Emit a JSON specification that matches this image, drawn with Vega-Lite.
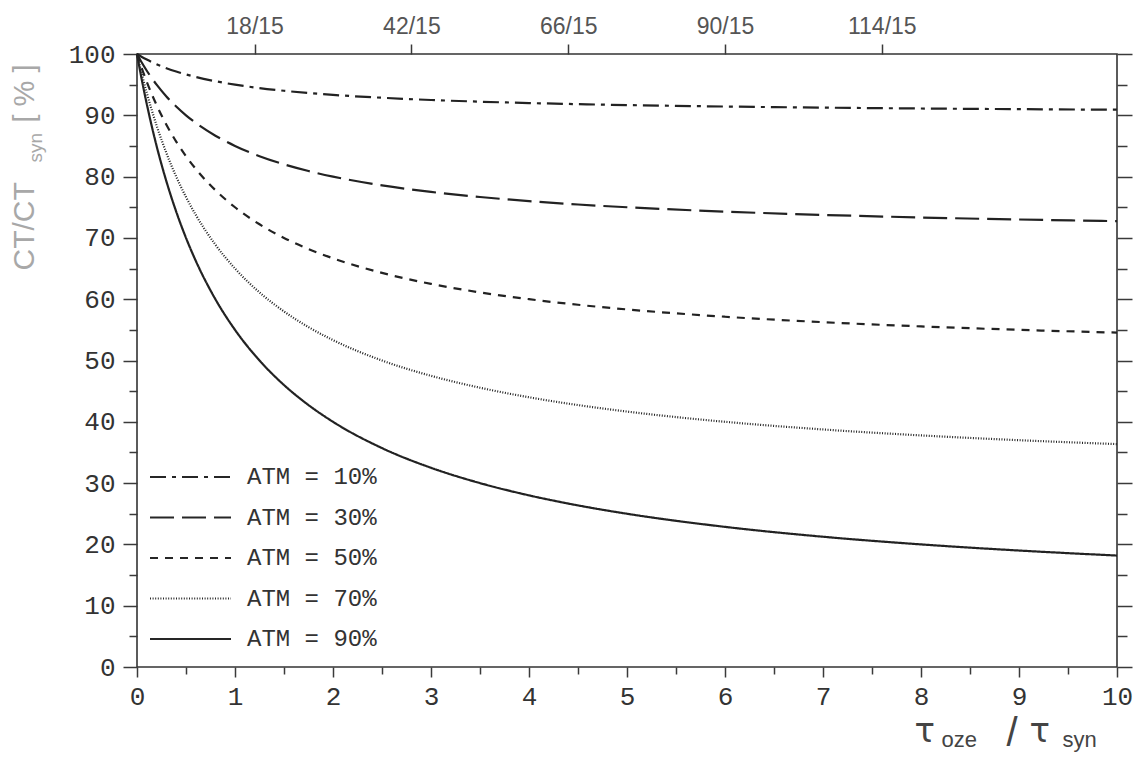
{
  "$schema": "https://vega.github.io/schema/vega-lite/v6.json",
  "width": 980,
  "height": 613,
  "autosize": "none",
  "padding": {"left": 137, "top": 54, "right": 20, "bottom": 94},
  "background": "white",
  "config": {
    "view": {"stroke": "#333333", "strokeWidth": 1.6},
    "axis": {
      "domain": false,
      "grid": false,
      "tickColor": "#3a3a3a",
      "tickWidth": 1.5,
      "labelFont": "Liberation Mono",
      "labelFontSize": 26,
      "labelColor": "#333333",
      "labelFlush": false,
      "labelOverlap": false,
      "titleFont": "Liberation Sans",
      "titleFontWeight": "normal",
      "titleAlign": "left",
      "titleBaseline": "alphabetic",
      "titlePadding": 0
    },
    "legend": {
      "orient": "none",
      "legendX": 12,
      "legendY": 411,
      "padding": 0,
      "symbolType": "stroke",
      "symbolSize": 6561,
      "symbolStrokeWidth": 2,
      "symbolStrokeColor": "#262626",
      "clipHeight": 24,
      "rowPadding": 16.5,
      "labelOffset": 15,
      "labelFont": "Liberation Mono",
      "labelFontSize": 24,
      "labelColor": "#333333"
    }
  },
  "data": {"name": "curves"},
  "datasets": {
    "curves": [
      {"atm": 10, "t": 0, "v": 100}, {"atm": 10, "t": 0.05, "v": 99.52}, {"atm": 10, "t": 0.1, "v": 99.09}, {"atm": 10, "t": 0.2, "v": 98.33}, {"atm": 10, "t": 0.3, "v": 97.69},
      {"atm": 10, "t": 0.4, "v": 97.14}, {"atm": 10, "t": 0.5, "v": 96.67}, {"atm": 10, "t": 0.6, "v": 96.25}, {"atm": 10, "t": 0.8, "v": 95.56}, {"atm": 10, "t": 1, "v": 95.0},
      {"atm": 10, "t": 1.25, "v": 94.44}, {"atm": 10, "t": 1.5, "v": 94.0}, {"atm": 10, "t": 1.75, "v": 93.64}, {"atm": 10, "t": 2, "v": 93.33}, {"atm": 10, "t": 2.5, "v": 92.86},
      {"atm": 10, "t": 3, "v": 92.5}, {"atm": 10, "t": 3.5, "v": 92.22}, {"atm": 10, "t": 4, "v": 92.0}, {"atm": 10, "t": 4.5, "v": 91.82}, {"atm": 10, "t": 5, "v": 91.67},
      {"atm": 10, "t": 6, "v": 91.43}, {"atm": 10, "t": 7, "v": 91.25}, {"atm": 10, "t": 8, "v": 91.11}, {"atm": 10, "t": 9, "v": 91.0}, {"atm": 10, "t": 10, "v": 90.91},

      {"atm": 30, "t": 0, "v": 100}, {"atm": 30, "t": 0.05, "v": 98.57}, {"atm": 30, "t": 0.1, "v": 97.27}, {"atm": 30, "t": 0.2, "v": 95.0}, {"atm": 30, "t": 0.3, "v": 93.08},
      {"atm": 30, "t": 0.4, "v": 91.43}, {"atm": 30, "t": 0.5, "v": 90.0}, {"atm": 30, "t": 0.6, "v": 88.75}, {"atm": 30, "t": 0.8, "v": 86.67}, {"atm": 30, "t": 1, "v": 85.0},
      {"atm": 30, "t": 1.25, "v": 83.33}, {"atm": 30, "t": 1.5, "v": 82.0}, {"atm": 30, "t": 1.75, "v": 80.91}, {"atm": 30, "t": 2, "v": 80.0}, {"atm": 30, "t": 2.5, "v": 78.57},
      {"atm": 30, "t": 3, "v": 77.5}, {"atm": 30, "t": 3.5, "v": 76.67}, {"atm": 30, "t": 4, "v": 76.0}, {"atm": 30, "t": 4.5, "v": 75.45}, {"atm": 30, "t": 5, "v": 75.0},
      {"atm": 30, "t": 6, "v": 74.29}, {"atm": 30, "t": 7, "v": 73.75}, {"atm": 30, "t": 8, "v": 73.33}, {"atm": 30, "t": 9, "v": 73.0}, {"atm": 30, "t": 10, "v": 72.73},

      {"atm": 50, "t": 0, "v": 100}, {"atm": 50, "t": 0.05, "v": 97.62}, {"atm": 50, "t": 0.1, "v": 95.45}, {"atm": 50, "t": 0.2, "v": 91.67}, {"atm": 50, "t": 0.3, "v": 88.46},
      {"atm": 50, "t": 0.4, "v": 85.71}, {"atm": 50, "t": 0.5, "v": 83.33}, {"atm": 50, "t": 0.6, "v": 81.25}, {"atm": 50, "t": 0.8, "v": 77.78}, {"atm": 50, "t": 1, "v": 75.0},
      {"atm": 50, "t": 1.25, "v": 72.22}, {"atm": 50, "t": 1.5, "v": 70.0}, {"atm": 50, "t": 1.75, "v": 68.18}, {"atm": 50, "t": 2, "v": 66.67}, {"atm": 50, "t": 2.5, "v": 64.29},
      {"atm": 50, "t": 3, "v": 62.5}, {"atm": 50, "t": 3.5, "v": 61.11}, {"atm": 50, "t": 4, "v": 60.0}, {"atm": 50, "t": 4.5, "v": 59.09}, {"atm": 50, "t": 5, "v": 58.33},
      {"atm": 50, "t": 6, "v": 57.14}, {"atm": 50, "t": 7, "v": 56.25}, {"atm": 50, "t": 8, "v": 55.56}, {"atm": 50, "t": 9, "v": 55.0}, {"atm": 50, "t": 10, "v": 54.55},

      {"atm": 70, "t": 0, "v": 100}, {"atm": 70, "t": 0.05, "v": 96.67}, {"atm": 70, "t": 0.1, "v": 93.64}, {"atm": 70, "t": 0.2, "v": 88.33}, {"atm": 70, "t": 0.3, "v": 83.85},
      {"atm": 70, "t": 0.4, "v": 80.0}, {"atm": 70, "t": 0.5, "v": 76.67}, {"atm": 70, "t": 0.6, "v": 73.75}, {"atm": 70, "t": 0.8, "v": 68.89}, {"atm": 70, "t": 1, "v": 65.0},
      {"atm": 70, "t": 1.25, "v": 61.11}, {"atm": 70, "t": 1.5, "v": 58.0}, {"atm": 70, "t": 1.75, "v": 55.45}, {"atm": 70, "t": 2, "v": 53.33}, {"atm": 70, "t": 2.5, "v": 50.0},
      {"atm": 70, "t": 3, "v": 47.5}, {"atm": 70, "t": 3.5, "v": 45.56}, {"atm": 70, "t": 4, "v": 44.0}, {"atm": 70, "t": 4.5, "v": 42.73}, {"atm": 70, "t": 5, "v": 41.67},
      {"atm": 70, "t": 6, "v": 40.0}, {"atm": 70, "t": 7, "v": 38.75}, {"atm": 70, "t": 8, "v": 37.78}, {"atm": 70, "t": 9, "v": 37.0}, {"atm": 70, "t": 10, "v": 36.36},

      {"atm": 90, "t": 0, "v": 100}, {"atm": 90, "t": 0.05, "v": 95.71}, {"atm": 90, "t": 0.1, "v": 91.82}, {"atm": 90, "t": 0.2, "v": 85.0}, {"atm": 90, "t": 0.3, "v": 79.23},
      {"atm": 90, "t": 0.4, "v": 74.29}, {"atm": 90, "t": 0.5, "v": 70.0}, {"atm": 90, "t": 0.6, "v": 66.25}, {"atm": 90, "t": 0.8, "v": 60.0}, {"atm": 90, "t": 1, "v": 55.0},
      {"atm": 90, "t": 1.25, "v": 50.0}, {"atm": 90, "t": 1.5, "v": 46.0}, {"atm": 90, "t": 1.75, "v": 42.73}, {"atm": 90, "t": 2, "v": 40.0}, {"atm": 90, "t": 2.5, "v": 35.71},
      {"atm": 90, "t": 3, "v": 32.5}, {"atm": 90, "t": 3.5, "v": 30.0}, {"atm": 90, "t": 4, "v": 28.0}, {"atm": 90, "t": 4.5, "v": 26.36}, {"atm": 90, "t": 5, "v": 25.0},
      {"atm": 90, "t": 6, "v": 22.86}, {"atm": 90, "t": 7, "v": 21.25}, {"atm": 90, "t": 8, "v": 20.0}, {"atm": 90, "t": 9, "v": 19.0}, {"atm": 90, "t": 10, "v": 18.18}
    ]
  },
  "layer": [
    {
      "mark": {"type": "line", "color": "#222222", "strokeWidth": 2.2, "interpolate": "monotone"},
      "encoding": {
        "x": {
          "field": "t", "type": "quantitative",
          "scale": {"domain": [0, 10], "nice": false, "zero": false},
          "axis": {"orient": "bottom", "values": [0, 1, 2, 3, 4, 5, 6, 7, 8, 9, 10], "tickSize": 10, "labelPadding": 27, "labelBaseline": "alphabetic", "title": null}
        },
        "y": {
          "field": "v", "type": "quantitative",
          "scale": {"domain": [0, 100], "nice": false},
          "axis": {"orient": "left", "values": [0, 10, 20, 30, 40, 50, 60, 70, 80, 90, 100], "tickSize": 14, "labelPadding": 8, "title": null}
        },
        "strokeDash": {
          "field": "atm", "type": "nominal",
          "scale": {"domain": [10, 30, 50, 70, 90], "range": [[16, 6, 4, 6], [24, 8], [8, 7], [1, 1.6], [1, 0]]},
          "legend": {"title": null, "labelExpr": "'ATM = ' + datum.label + '%'"}
        }
      }
    },
    {
      "mark": {"type": "point", "opacity": 0},
      "encoding": {
        "x": {"field": "t", "type": "quantitative", "axis": {"orient": "bottom", "values": [0.5, 1.5, 2.5, 3.5, 4.5, 5.5, 6.5, 7.5, 8.5, 9.5], "tickSize": 7, "labels": false, "title": null}},
        "y": {"field": "v", "type": "quantitative", "axis": null}
      }
    },
    {
      "mark": {"type": "point", "opacity": 0},
      "encoding": {
        "x": {"field": "t", "type": "quantitative", "axis": {"orient": "top", "values": [1.2, 2.8, 4.4, 6, 7.6], "tickSize": 10, "labelExpr": "round(datum.value * 15) + '/15'", "labelFont": "Liberation Sans", "labelFontSize": 23, "labelColor": "#555555", "labelPadding": 11, "labelBaseline": "alphabetic", "title": null}},
        "y": {"field": "v", "type": "quantitative", "axis": null}
      }
    },
    {
      "mark": {"type": "point", "opacity": 0},
      "encoding": {
        "x": {"field": "t", "type": "quantitative", "axis": null},
        "y": {"field": "v", "type": "quantitative", "axis": {"orient": "left", "values": [5, 15, 25, 35, 45, 55, 65, 75, 85, 95], "tickSize": 8, "labels": false, "title": null}}
      }
    },
    {
      "mark": {"type": "point", "opacity": 0},
      "encoding": {
        "x": {"field": "t", "type": "quantitative", "axis": null},
        "y": {"field": "v", "type": "quantitative", "axis": {"orient": "right", "values": [0, 10, 20, 30, 40, 50, 60, 70, 80, 90, 100], "tickSize": 15, "labels": false, "title": null}}
      }
    },
    {
      "mark": {"type": "point", "opacity": 0},
      "encoding": {
        "x": {"field": "t", "type": "quantitative", "axis": null},
        "y": {"field": "v", "type": "quantitative", "axis": {"orient": "right", "values": [5, 15, 25, 35, 45, 55, 65, 75, 85, 95], "tickSize": 10, "labels": false, "title": null}}
      }
    },
    {
      "mark": {"type": "point", "opacity": 0},
      "encoding": {
        "x": {"field": "t", "type": "quantitative", "axis": null},
        "y": {"field": "v", "type": "quantitative", "axis": {"orient": "left", "ticks": false, "labels": false, "title": "CT/CT", "titleAngle": -90, "titleX": -104, "titleY": 216, "titleFontSize": 30, "titleColor": "#a8a8a8"}}
      }
    },
    {
      "mark": {"type": "point", "opacity": 0},
      "encoding": {
        "x": {"field": "t", "type": "quantitative", "axis": null},
        "y": {"field": "v", "type": "quantitative", "axis": {"orient": "left", "ticks": false, "labels": false, "title": "syn", "titleAngle": -90, "titleX": -96, "titleY": 108, "titleFontSize": 19, "titleColor": "#a8a8a8"}}
      }
    },
    {
      "mark": {"type": "point", "opacity": 0},
      "encoding": {
        "x": {"field": "t", "type": "quantitative", "axis": null},
        "y": {"field": "v", "type": "quantitative", "axis": {"orient": "left", "ticks": false, "labels": false, "title": "[ % ]", "titleAngle": -90, "titleX": -104, "titleY": 68, "titleFontSize": 29, "titleColor": "#a8a8a8"}}
      }
    },
    {
      "mark": {"type": "point", "opacity": 0},
      "encoding": {
        "x": {"field": "t", "type": "quantitative", "axis": {"orient": "bottom", "ticks": false, "labels": false, "title": "τ", "titleX": 777, "titleY": 74, "titleFont": "DejaVu Sans", "titleFontSize": 34, "titleColor": "#444444"}},
        "y": {"field": "v", "type": "quantitative", "axis": null}
      }
    },
    {
      "mark": {"type": "point", "opacity": 0},
      "encoding": {
        "x": {"field": "t", "type": "quantitative", "axis": {"orient": "bottom", "ticks": false, "labels": false, "title": "oze", "titleX": 804, "titleY": 79, "titleFontSize": 22, "titleColor": "#444444"}},
        "y": {"field": "v", "type": "quantitative", "axis": null}
      }
    },
    {
      "mark": {"type": "point", "opacity": 0},
      "encoding": {
        "x": {"field": "t", "type": "quantitative", "axis": {"orient": "bottom", "ticks": false, "labels": false, "title": "/", "titleX": 869, "titleY": 78, "titleFontSize": 40, "titleColor": "#444444"}},
        "y": {"field": "v", "type": "quantitative", "axis": null}
      }
    },
    {
      "mark": {"type": "point", "opacity": 0},
      "encoding": {
        "x": {"field": "t", "type": "quantitative", "axis": {"orient": "bottom", "ticks": false, "labels": false, "title": "τ", "titleX": 892, "titleY": 74, "titleFont": "DejaVu Sans", "titleFontSize": 34, "titleColor": "#444444"}},
        "y": {"field": "v", "type": "quantitative", "axis": null}
      }
    },
    {
      "mark": {"type": "point", "opacity": 0},
      "encoding": {
        "x": {"field": "t", "type": "quantitative", "axis": {"orient": "bottom", "ticks": false, "labels": false, "title": "syn", "titleX": 925, "titleY": 79, "titleFontSize": 22, "titleColor": "#444444"}},
        "y": {"field": "v", "type": "quantitative", "axis": null}
      }
    }
  ],
  "resolve": {"axis": {"x": "independent", "y": "independent"}}
}
